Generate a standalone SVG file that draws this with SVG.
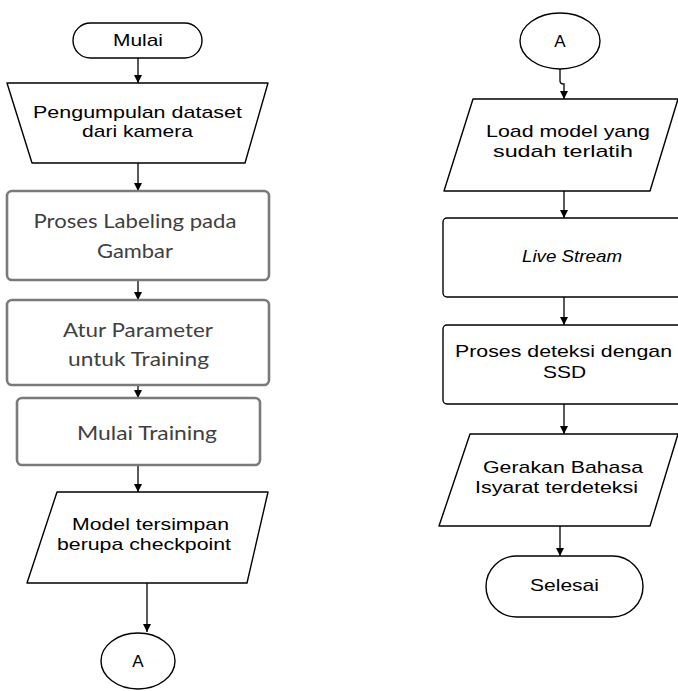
<svg xmlns="http://www.w3.org/2000/svg" width="678" height="691" viewBox="0 0 678 691">
<defs>
<marker id="ah" viewBox="0 0 10 10" refX="10" refY="5" markerWidth="8" markerHeight="8" markerUnits="userSpaceOnUse" orient="auto">
<path d="M0,0 L10,5 L0,10 Z" fill="#000"/>
</marker>
<style>
.sh{fill:#fff;stroke:#000;stroke-width:1.4;stroke-linejoin:round}
.gb{fill:#fff;stroke:#7a7a7a;stroke-width:2.6}
.t{font-family:"Liberation Sans",Arial,sans-serif;font-size:17px;fill:#000;text-anchor:middle}
.g{font-family:Lato,"Open Sans",sans-serif;font-size:19px;fill:#404040;text-anchor:middle}
.c{fill:none;stroke:#000;stroke-width:1.3}
</style>
</defs>
<rect width="678" height="691" fill="#fff"/>
<g id="connectors">
<path class="c" d="M138,58 V83" marker-end="url(#ah)"/>
<path class="c" d="M138,163 V191" marker-end="url(#ah)"/>
<path class="c" d="M138,280 V300" marker-end="url(#ah)"/>
<path class="c" d="M138,385 V398" marker-end="url(#ah)"/>
<path class="c" d="M138,465 V492" marker-end="url(#ah)"/>
<path class="c" d="M147,583 V632" marker-end="url(#ah)"/>
<path class="c" d="M560,69 V81 Q560,84 564,84 V99" marker-end="url(#ah)"/>
<path class="c" d="M564,191 V218" marker-end="url(#ah)"/>
<path class="c" d="M564,297 V325" marker-end="url(#ah)"/>
<path class="c" d="M564,404 V434" marker-end="url(#ah)"/>
<path class="c" d="M560,526 V556" marker-end="url(#ah)"/>
</g>
<g id="mulai">
<rect class="sh" x="73" y="23" width="129" height="35" rx="17.5"/>
<text class="t" x="138" y="46" textLength="50" lengthAdjust="spacingAndGlyphs">Mulai</text>
</g>
<g id="pengumpulan">
<path class="sh" d="M7,83 H268 L245,163 H32 Z"/>
<text class="t" x="137.5" y="118" textLength="209" lengthAdjust="spacingAndGlyphs">Pengumpulan dataset</text>
<text class="t" x="137.5" y="137" textLength="111" lengthAdjust="spacingAndGlyphs">dari kamera</text>
</g>
<g id="labeling">
<rect class="gb" x="7" y="191" width="262" height="89" rx="5"/>
<text class="g" x="135" y="228" textLength="203" lengthAdjust="spacingAndGlyphs">Proses Labeling pada</text>
<text class="g" x="135" y="258" textLength="76" lengthAdjust="spacingAndGlyphs">Gambar</text>
</g>
<g id="parameter">
<rect class="gb" x="7" y="300" width="262" height="85" rx="5"/>
<text class="g" x="138" y="337" textLength="150" lengthAdjust="spacingAndGlyphs">Atur Parameter</text>
<text class="g" x="138.5" y="366" textLength="141" lengthAdjust="spacingAndGlyphs">untuk Training</text>
</g>
<g id="mulai-training">
<rect class="gb" x="17" y="398" width="243" height="67" rx="5"/>
<text class="g" x="147" y="440" textLength="140" lengthAdjust="spacingAndGlyphs">Mulai Training</text>
</g>
<g id="model-tersimpan">
<path class="sh" d="M57,492 H268 L247,583 H27 Z"/>
<text class="t" x="150.5" y="530" textLength="157" lengthAdjust="spacingAndGlyphs">Model tersimpan</text>
<text class="t" x="144" y="550" textLength="174" lengthAdjust="spacingAndGlyphs">berupa checkpoint</text>
</g>
<g id="a-left">
<ellipse class="sh" cx="138" cy="661" rx="37" ry="28"/>
<text class="t" x="138" y="667">A</text>
</g>
<g id="a-right">
<ellipse class="sh" cx="560" cy="41" rx="40" ry="28"/>
<text class="t" x="560" y="47">A</text>
</g>
<g id="load-model">
<path class="sh" d="M473,99 H678 L650,191 H444 Z"/>
<text class="t" x="568" y="137" textLength="164" lengthAdjust="spacingAndGlyphs">Load model yang</text>
<text class="t" x="563" y="157" textLength="140" lengthAdjust="spacingAndGlyphs">sudah terlatih</text>
</g>
<g id="live-stream">
<rect class="sh" x="443" y="218" width="250" height="79" rx="4"/>
<text class="t" x="572" y="262" font-style="italic" textLength="100" lengthAdjust="spacingAndGlyphs">Live Stream</text>
</g>
<g id="deteksi">
<rect class="sh" x="443" y="325" width="250" height="79" rx="4"/>
<text class="t" x="563.5" y="357" textLength="217" lengthAdjust="spacingAndGlyphs">Proses deteksi dengan</text>
<text class="t" x="564.5" y="378" textLength="43" lengthAdjust="spacingAndGlyphs">SSD</text>
</g>
<g id="gerakan">
<path class="sh" d="M470,434 H678 L650,526 H439 Z"/>
<text class="t" x="563" y="473" textLength="160" lengthAdjust="spacingAndGlyphs">Gerakan Bahasa</text>
<text class="t" x="556.5" y="493" textLength="163" lengthAdjust="spacingAndGlyphs">Isyarat terdeteksi</text>
</g>
<g id="selesai">
<rect class="sh" x="486" y="556" width="157" height="61" rx="30.5"/>
<text class="t" x="564.5" y="591" textLength="69" lengthAdjust="spacingAndGlyphs">Selesai</text>
</g>
</svg>
